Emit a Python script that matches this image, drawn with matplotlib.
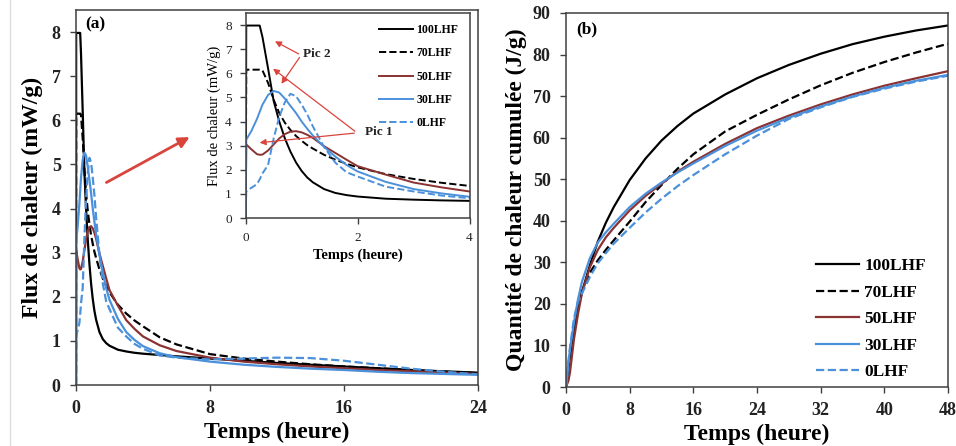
import numpy as np
import matplotlib
matplotlib.use("Agg")
import matplotlib.pyplot as plt
from matplotlib.lines import Line2D

plt.rcParams['font.family'] = ['Liberation Serif', 'DejaVu Serif']

# ---- data: panel (a) heat flux (mW/g) vs time (h)
t_flux = [0, 0.01, 0.1, 0.2, 0.25, 0.3, 0.4, 0.5, 0.6, 0.7, 0.8, 0.9, 1.0, 1.1, 1.2, 1.4, 1.6, 1.8,
          2.0, 2.5, 3.0, 3.5, 4.0, 5, 6, 8, 10, 12, 14, 16, 18, 20, 22, 24]
flux_100 = [0, 7.98, 7.98, 7.98, 7.98, 7.5, 6.2, 4.85, 4.0, 3.3, 2.75, 2.3, 1.95, 1.68, 1.48, 1.2, 1.04, 0.95,
            0.89, 0.8, 0.76, 0.73, 0.71, 0.68, 0.65, 0.6, 0.55, 0.5, 0.46, 0.42, 0.38, 0.34, 0.31, 0.28]
flux_70 = [0, 6.15, 6.15, 6.15, 6.15, 6.12, 5.6, 4.9, 4.35, 3.95, 3.65, 3.4, 3.2, 3.02, 2.88, 2.62, 2.42, 2.25,
           2.1, 1.82, 1.62, 1.46, 1.33, 1.08, 0.92, 0.7, 0.6, 0.53, 0.47, 0.42, 0.38, 0.34, 0.3, 0.27]
flux_50 = [0, 3.05, 2.85, 2.65, 2.62, 2.63, 2.8, 3.05, 3.3, 3.48, 3.58, 3.6, 3.55, 3.45, 3.32, 2.98, 2.7, 2.42,
           2.15, 1.8, 1.47, 1.27, 1.1, 0.9, 0.77, 0.62, 0.53, 0.47, 0.42, 0.38, 0.34, 0.31, 0.28, 0.25]
flux_30 = [0, 3.25, 3.6, 4.1, 4.4, 4.7, 5.1, 5.27, 5.2, 4.95, 4.65, 4.35, 4.0, 3.7, 3.42, 2.95, 2.55, 2.2,
           1.93, 1.5, 1.2, 1.02, 0.88, 0.72, 0.63, 0.53, 0.46, 0.41, 0.37, 0.34, 0.3, 0.27, 0.25, 0.23]
flux_0 = [0, 1.1, 1.25, 1.4, 1.6, 1.85, 2.2, 3.3, 4.2, 4.8, 5.15, 5.05, 4.7, 4.3, 3.8, 2.95, 2.3, 1.9,
          1.72, 1.3, 1.1, 0.93, 0.82, 0.67, 0.62, 0.58, 0.6, 0.62, 0.61, 0.55, 0.46, 0.37, 0.3, 0.24]

# ---- data: panel (b) cumulative heat (J/g) vs time (h)
t_cum = [0, 0.3, 0.5, 1, 1.5, 2, 3, 4, 5, 6, 8, 10, 12, 14, 16, 20, 24, 28, 32, 36, 40, 44, 48]
cum_100 = [0, 4.5, 7.5, 13.6, 18.8, 22.8, 29.3, 35, 39.5, 43.3, 49.8, 55, 59.3, 62.8, 65.8, 70.4, 74.3,
           77.5, 80.2, 82.5, 84.3, 85.8, 87]
cum_70 = [0, 4.9, 8.5, 14.8, 19, 23, 27.5, 30.5, 33, 35.3, 39.8, 44.5, 48.6, 52.5, 56, 61.5, 65.5,
          69.2, 72.6, 75.6, 78.2, 80.5, 82.6]
cum_50 = [0, 1.5, 3.5, 11.5, 17.5, 22.5, 28.8, 33, 36, 38.3, 42.5, 46, 48.9, 51.8, 54.2, 58.5, 62.3,
          65.3, 68, 70.4, 72.5, 74.3, 76]
cum_30 = [0, 5.7, 9, 15.5, 21, 25.3, 31, 34.8, 37.2, 39.3, 43.3, 46.5, 49.2, 51.6, 53.8, 58, 61.7,
          64.8, 67.5, 69.9, 72, 73.7, 75.1]
cum_0 = [0, 6, 9.5, 16.5, 20.5, 22.5, 26.5, 29.8, 32.2, 34.5, 38.3, 42, 45.3, 48.3, 51, 56, 60.5,
         64.5, 67.3, 69.8, 71.8, 73.5, 74.9]

labels = ['100LHF', '70LHF', '50LHF', '30LHF', '0LHF']
colors = ['black', 'black', '#8B3232', '#4A90DA', '#4A90DA']
styles = ['-', '--', '-', '-', '--']
flux_series = [flux_100, flux_70, flux_50, flux_30, flux_0]
cum_series = [cum_100, cum_70, cum_50, cum_30, cum_0]

spine_col = '#404040'
arrow_col = '#D9443D'


def style_axes(ax, tick_size, bold=True, pad=5):
    for s in ax.spines.values():
        s.set_color(spine_col)
        s.set_linewidth(1.1)
    ax.tick_params(direction='out', length=4, width=1, colors=spine_col, pad=pad,
                   labelsize=tick_size, labelcolor='#222222')
    for lab in ax.get_xticklabels() + ax.get_yticklabels():
        lab.set_fontweight('bold' if bold else 'normal')


fig = plt.figure(figsize=(9.56, 4.46), dpi=100)
W, H = 956, 446


def px_axes(left, top, right, bottom):
    return fig.add_axes([left / W, 1 - bottom / H, (right - left) / W, (bottom - top) / H])


# light border line at the far left of the picture
fig.add_artist(Line2D([9.5 / W, 9.5 / W], [0, 1], color='#dcdcdc', lw=1))

# ---------------- panel (a)
ax1 = px_axes(76, 10, 478, 385)
for y, c, ls in zip(flux_series, colors, styles):
    ax1.plot(t_flux, y, color=c, linestyle=ls, lw=1.6)
ax1.set_xlim(0, 24)
ax1.set_ylim(0, 8.5)
ax1.set_xticks([0, 8, 16, 24])
ax1.set_yticks(range(0, 9))
ax1.set_xlabel('Temps (heure)', fontsize=17, fontweight='bold', labelpad=3)
ax1.set_ylabel('Flux de chaleur (mW/g)', fontsize=17, fontweight='bold', labelpad=6)
style_axes(ax1, 13, pad=7)
ax1.text(0.022, 0.962, '(a)', transform=ax1.transAxes, fontsize=12.5, fontweight='bold', va='center')
ax1.annotate('', xy=(6.93, 5.65), xytext=(1.67, 4.56),
             arrowprops=dict(arrowstyle='-|>', color=arrow_col, lw=2, mutation_scale=16))

# inset
axi = px_axes(245.7, 13, 469.5, 218)
for y, c, ls, lab in zip(flux_series, colors, styles, labels):
    axi.plot(t_flux, y, color=c, linestyle=ls, lw=1.4, label=lab)
axi.set_xlim(0, 4)
axi.set_ylim(0, 8.5)
axi.set_xticks([0, 2, 4])
axi.set_yticks(range(0, 9))
axi.set_xlabel('Temps (heure)', fontsize=10.5, fontweight='bold', labelpad=3)
axi.set_ylabel('Flux de chaleur (mW/g)', fontsize=10.5, labelpad=3)
style_axes(axi, 9.5, bold=False, pad=6)
axi.legend(loc='upper right', bbox_to_anchor=(1.0, 1.0), frameon=False,
           handlelength=2.9, labelspacing=0.95, borderaxespad=0.55, handletextpad=0.3,
           prop={'weight': 'bold', 'size': 8.5})

arrow_kw = dict(arrowstyle='-|>', color=arrow_col, lw=0.9, mutation_scale=9)
axi.annotate('', xy=(0.48, 7.38), xytext=(0.99, 6.75), arrowprops=arrow_kw)
axi.annotate('', xy=(0.61, 5.47), xytext=(0.99, 6.75), arrowprops=arrow_kw)
axi.annotate('', xy=(0.45, 6.26), xytext=(1.99, 3.53), arrowprops=arrow_kw)
axi.annotate('', xy=(0.2, 3.11), xytext=(1.99, 3.53), arrowprops=arrow_kw)
axi.text(1.03, 6.78, 'Pic 2', fontsize=9.5, fontweight='bold', va='center', color='#222222')
axi.text(2.14, 3.56, 'Pic 1', fontsize=9.5, fontweight='bold', va='center', color='#222222')

# ---------------- panel (b)
ax2 = px_axes(566, 13, 948, 387)
for y, c, ls, lab in zip(cum_series, colors, styles, labels):
    ax2.plot(t_cum, y, color=c, linestyle=ls, lw=1.6, label=lab)
ax2.set_xlim(0, 48)
ax2.set_ylim(0, 90)
ax2.set_xticks(range(0, 49, 8))
ax2.set_yticks(range(0, 91, 10))
ax2.set_xlabel('Temps (heure)', fontsize=17, fontweight='bold', labelpad=3)
ax2.set_ylabel('Quantité de chaleur cumulée (J/g)', fontsize=17, fontweight='bold', labelpad=4)
style_axes(ax2, 13, pad=7)
ax2.text(0.028, 0.957, '(b)', transform=ax2.transAxes, fontsize=12.5, fontweight='bold', va='center')
ax2.legend(loc='lower right', bbox_to_anchor=(0.97, -0.01), frameon=False,
           handlelength=2.5, labelspacing=0.6, borderaxespad=0.2, handletextpad=0.3,
           prop={'weight': 'bold', 'size': 12.5})

fig.savefig('out.png', dpi=100)
